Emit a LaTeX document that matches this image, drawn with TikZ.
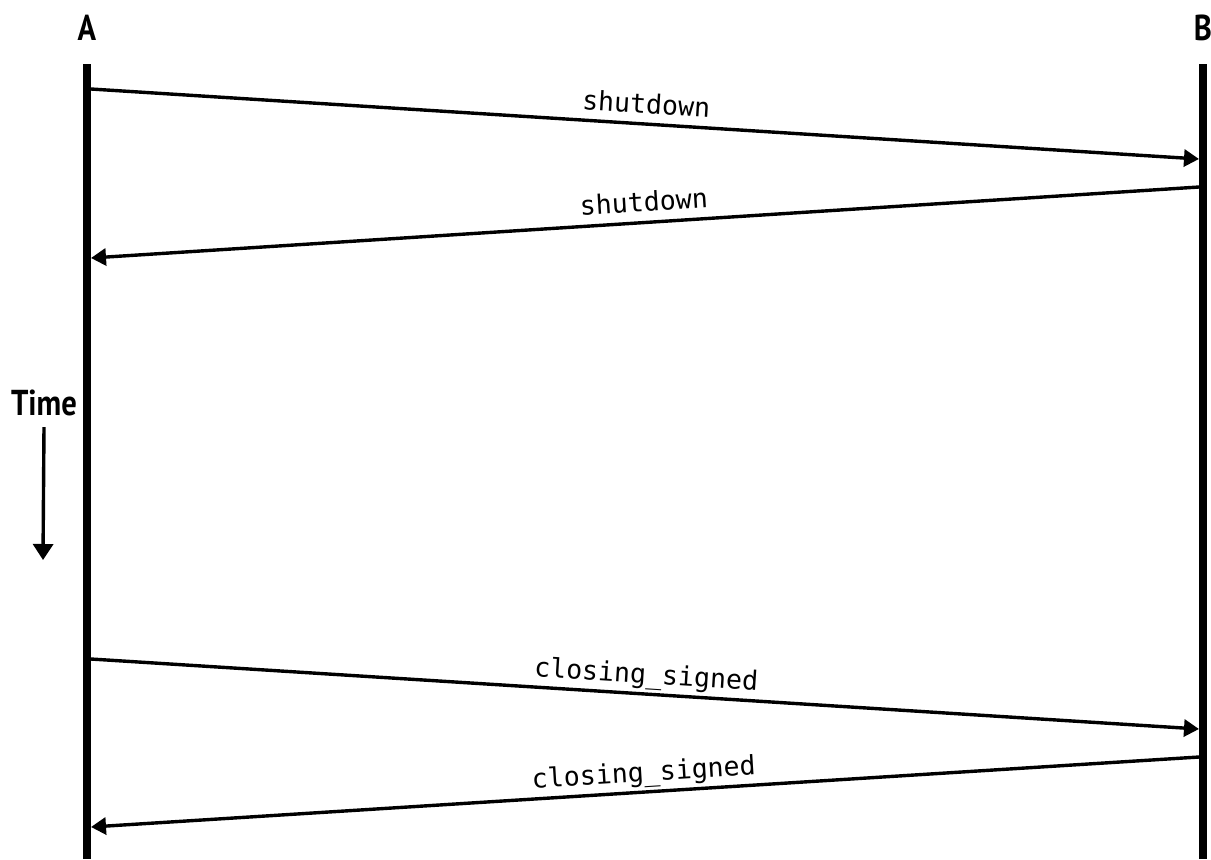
\documentclass[tikz,border=0pt]{standalone}
\usepackage{fontspec}
\setmonofont{DejaVu Sans Mono}
\newfontfamily\partyfont{PT Sans}[FakeStretch=0.85]
\usetikzlibrary{arrows.meta}

\begin{document}
\begin{tikzpicture}[x=0.5pt, y=-0.5pt,
  party/.style={font=\partyfont\bfseries\fontsize{18}{20}\selectfont, inner sep=0pt},
  lifeline/.style={line width=4pt},
  msg/.style={line width=1.7pt, -{Triangle[length=7.5pt, width=8.5pt]}},
  msglabel/.style={font=\ttfamily\fontsize{13.3}{15}\selectfont, sloped, above, text depth=0pt, inner sep=4.5pt},
]
\useasboundingbox (0,0) rectangle (1211,859);

% the two parties and their lifelines
\node[party] (A) at (87,28) {A};
\node[party] (B) at (1203,28) {B};
\coordinate (A top) at (87,64);
\coordinate (A end) at (87,859);
\coordinate (B top) at (1203,64);
\coordinate (B end) at (1203,859);
\draw[lifeline] (A top) -- (A end);
\draw[lifeline] (B top) -- (B end);

% time axis
\node[party] (time) at (44,403) {Time};
\coordinate (time end) at (43,560);
\draw[line width=1.7pt, -{Triangle[length=8pt, width=10pt]}] (time.south |- 0,427) -- (time end);

% message end points on the lifelines
\coordinate (a1) at (91,89);   \coordinate (b1) at (1199,159);
\coordinate (b2) at (1199,187); \coordinate (a2) at (91,258);
\coordinate (a3) at (91,659);  \coordinate (b3) at (1199,729);
\coordinate (b4) at (1199,757); \coordinate (a4) at (91,827);

% messages
\draw[msg] (a1) -- node[msglabel] {shutdown} (b1);
\draw[msg] (b2) -- node[msglabel] {shutdown} (a2);
\draw[msg] (a3) -- node[msglabel] {closing\_signed} (b3);
\draw[msg] (b4) -- node[msglabel] {closing\_signed} (a4);
\end{tikzpicture}
\end{document}
